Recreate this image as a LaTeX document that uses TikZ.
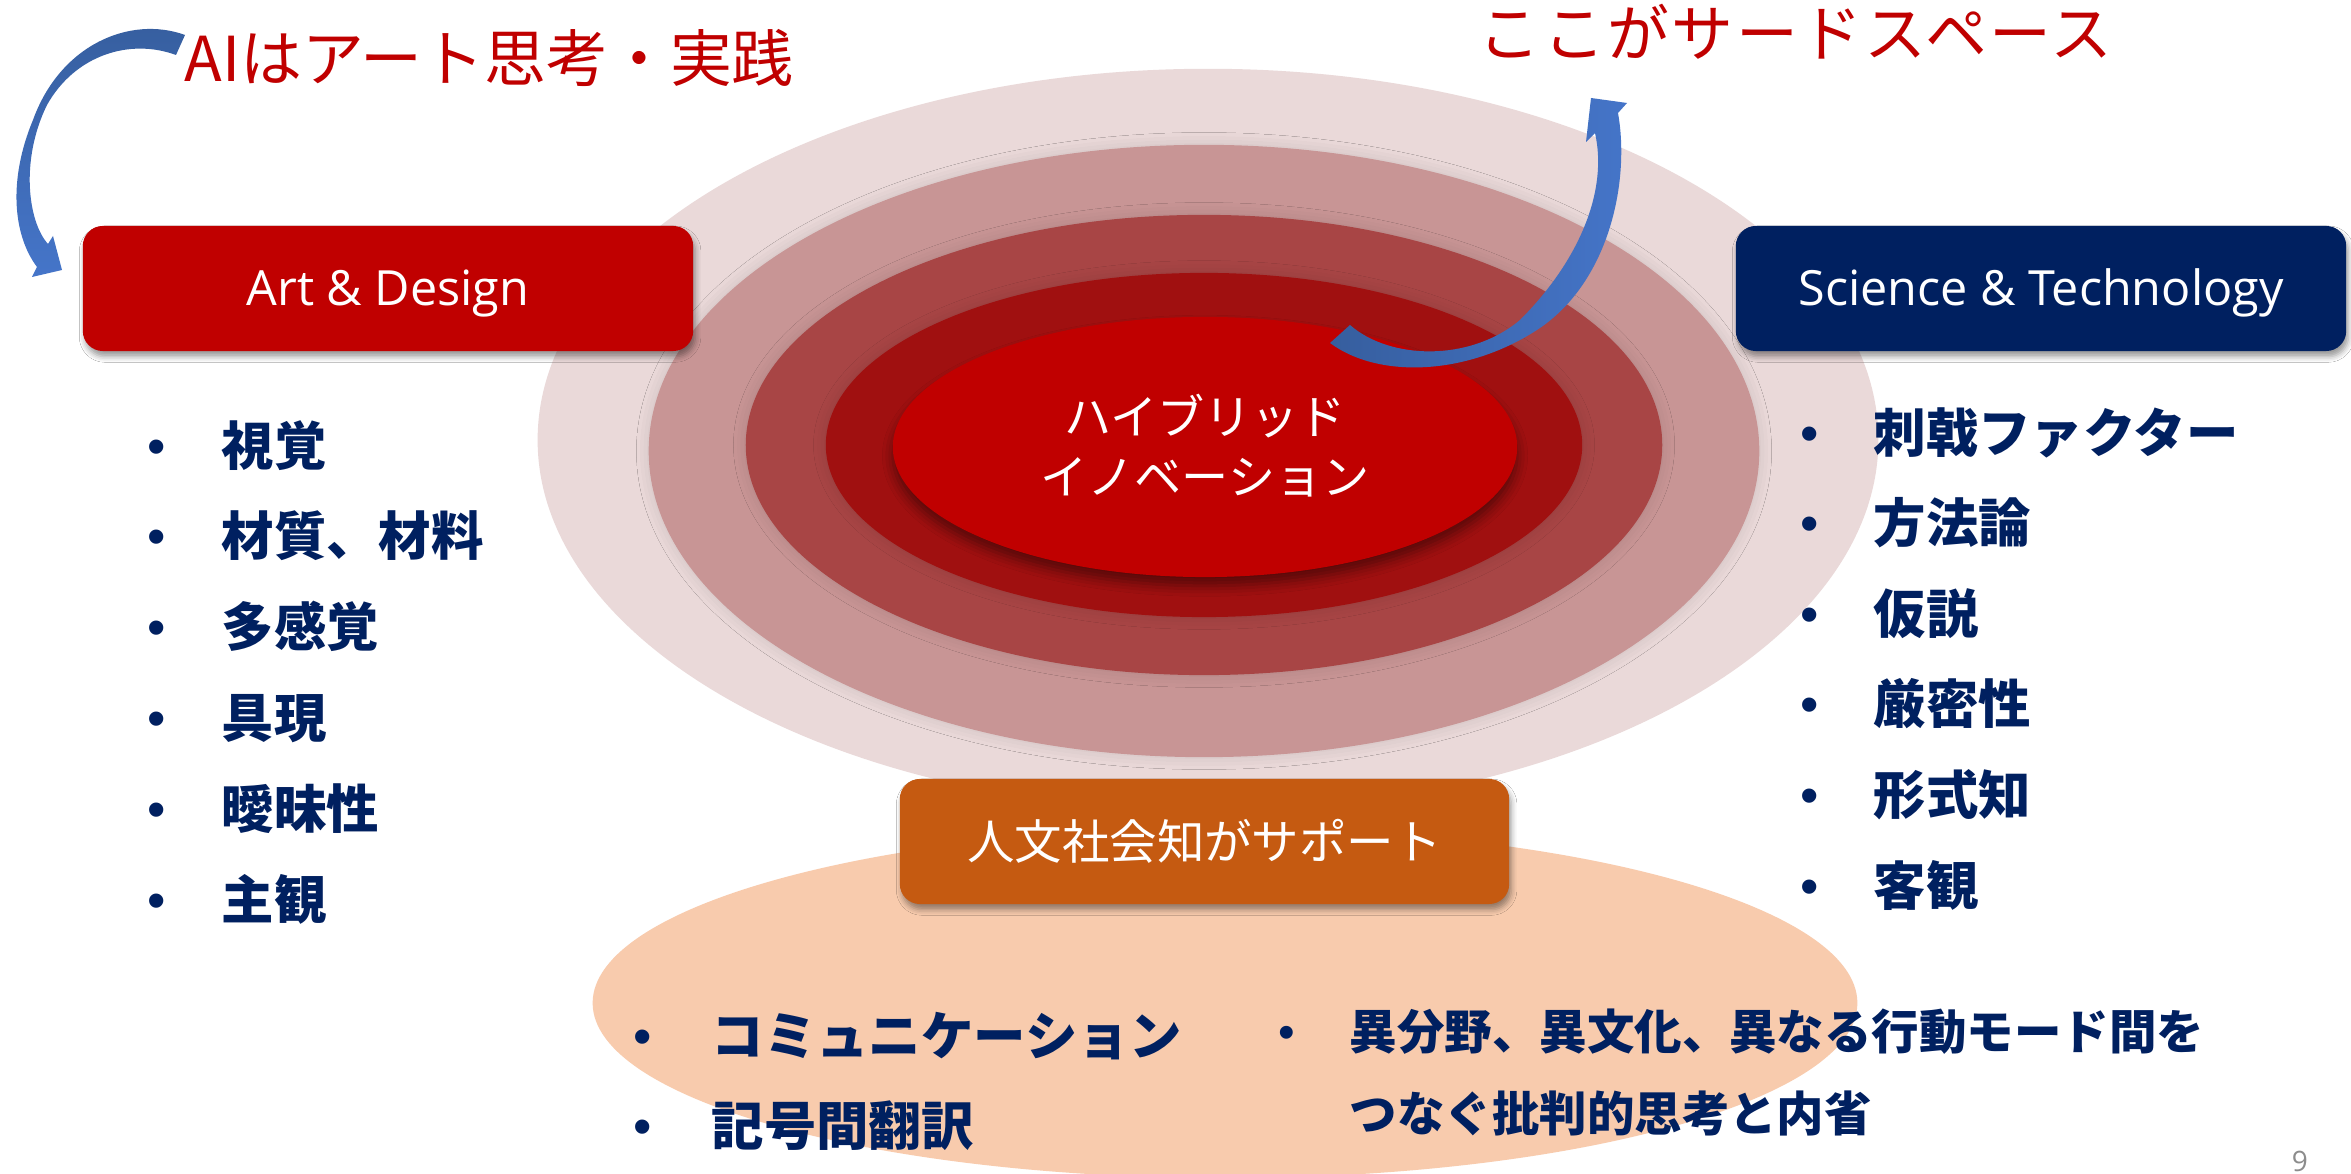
\documentclass[tikz,border=0pt]{standalone}
\usepackage{fontspec}
\setmainfont{Noto Sans CJK JP}
\newfontfamily\jp{Noto Sans CJK JP}
\newfontfamily\jpwide{Noto Sans CJK JP}[LetterSpace=4]
\newfontfamily\osans{Open Sans}
\newfontfamily\bulf{Liberation Sans}
\usetikzlibrary{shadows.blur}
\definecolor{redT}{HTML}{C00000}
\definecolor{navy}{HTML}{002060}
\definecolor{orangeB}{HTML}{C55A11}
\definecolor{peach}{HTML}{F8CBAD}
\definecolor{ringA}{HTML}{EAD9D9}
\definecolor{ringB}{HTML}{C89595}
\definecolor{ringC}{HTML}{A84545}
\definecolor{ringD}{HTML}{A01010}
\definecolor{ringE}{HTML}{C00000}
\definecolor{arrDark}{HTML}{365E9E}
\definecolor{arrLight}{HTML}{4575C9}
\definecolor{grayNum}{HTML}{8C8C8C}
\tikzset{
  titletext/.style={font=\jp\fontsize{17.6pt}{21pt}\selectfont, text=redT, inner sep=0pt, anchor=base west},
  labelbox/.style={rounded corners=0.2cm, minimum height=1.25cm, inner sep=0pt, text=white,
    blur shadow={shadow xshift=0.6pt, shadow yshift=-1.6pt, shadow blur radius=1.6pt, shadow opacity=40}},
  latinlbl/.style={font=\osans\fontsize{13.8pt}{16pt}\selectfont, text height=9.85pt, text depth=0pt},
  item/.style={font=\jp\bfseries\fontsize{14.9pt}{18pt}\selectfont, text=navy, inner sep=0pt, anchor=base west},
  itemsmall/.style={font=\jp\bfseries\fontsize{13.5pt}{16pt}\selectfont, text=navy, inner sep=0pt, anchor=base west},
  bulletmark/.style={font=\bulf\fontsize{14.9pt}{18pt}\selectfont, text=navy, inner sep=0pt, anchor=base},
  bulletsmall/.style={font=\bulf\fontsize{13.5pt}{16pt}\selectfont, text=navy, inner sep=0pt, anchor=base},
  hybtext/.style={font=\jp\fontsize{13.4pt}{16pt}\selectfont, text=white, inner sep=0pt, anchor=base},
  ringshadow/.style={blur shadow={shadow xshift=0pt, shadow yshift=0pt, shadow blur radius=3.5pt, shadow opacity=12}}
}
\begin{document}
\begin{tikzpicture}[x=0.01cm,y=-0.01cm]
\useasboundingbox[fill=white] (0,0) rectangle (2351,1174);

% peach support ellipse
\fill[peach] (1225,1003) ellipse [x radius=6.32cm, y radius=1.75cm];

% concentric rings
\path[fill=ringA] (1208,440) ellipse [x radius=6.70cm, y radius=3.71cm];
\path[fill=ringB, ringshadow] (1204,451) ellipse [x radius=5.55cm, y radius=3.06cm];
\path[fill=ringC, ringshadow] (1204,445) ellipse [x radius=4.58cm, y radius=2.30cm];
\path[fill=ringD, ringshadow] (1204,445) ellipse [x radius=3.78cm, y radius=1.72cm];
\path[fill=ringE, blur shadow={shadow xshift=0pt, shadow yshift=-2.5pt, shadow blur radius=3pt, shadow opacity=45}] (1205,447) ellipse [x radius=3.12cm, y radius=1.30cm];

% central text
\node[hybtext] (hyb1) at (1205,435) {ハイブリッド};
\node[hybtext] (hyb2) at (1205,495) {イノベーション};

% curved arrow towards third space
\shade[left color=arrDark, right color=arrLight]
  (1330,343) .. controls (1380,380) and (1470,375) .. (1540,328)
  .. controls (1610,280) and (1630,180) .. (1618,113)
  -- (1627,103) -- (1591,98) -- (1586,142) -- (1595,133)
  .. controls (1608,190) and (1580,260) .. (1520,320)
  .. controls (1470,362) and (1390,360) .. (1350,325) -- cycle;

% curved arrow towards Art & Design
\shade[top color=arrDark, bottom color=arrLight]
  (185,35) .. controls (130,15) and (60,45) .. (33,120)
  .. controls (8,180) and (13,235) .. (37,267)
  -- (32,277) -- (62,270) -- (53,236) -- (48,244)
  .. controls (28,222) and (20,160) .. (47,105)
  .. controls (75,55) and (130,38) .. (176,55) -- cycle;

% titles
\node[titletext] (ttl1) at (184,82) {AIはアート思考・実践};
\node[titletext, font=\jpwide\fontsize{17.6pt}{21pt}\selectfont] (ttl2) at (1478,57) {ここがサードスペース};

% boxes
\node[labelbox, fill=redT, minimum width=6.10cm, latinlbl] (art) at (388,288.5) {Art \& Design};
\node[labelbox, fill=navy, minimum width=6.10cm, latinlbl] (sci) at (2041,288.5) {Science \& Technology};
\node[labelbox, fill=orangeB, minimum width=6.09cm, font=\jp\fontsize{13.5pt}{16pt}\selectfont, text height=11.88pt, text depth=1.62pt] (hum) at (1204.5,841.5) {人文社会知がサポート};

% left list
\node[bulletmark] (bl1) at (157,464.3) {•};
\node[bulletmark] (bl2) at (157,554.3) {•};
\node[bulletmark] (bl3) at (157,645.3) {•};
\node[bulletmark] (bl4) at (157,736.3) {•};
\node[bulletmark] (bl5) at (157,827.3) {•};
\node[bulletmark] (bl6) at (157,918.3) {•};
\node[item] (l1) at (221,465.4) {視覚};
\node[item] (l2) at (221,555.4) {材質、材料};
\node[item] (l3) at (221,646.4) {多感覚};
\node[item] (l4) at (221,737.4) {具現};
\node[item] (l5) at (221,828.4) {曖昧性};
\node[item] (l6) at (221,919.4) {主観};

% right list
\node[bulletmark] (br1) at (1810,451.3) {•};
\node[bulletmark] (br2) at (1810,541.3) {•};
\node[bulletmark] (br3) at (1810,632.3) {•};
\node[bulletmark] (br4) at (1810,722.3) {•};
\node[bulletmark] (br5) at (1810,813.3) {•};
\node[bulletmark] (br6) at (1810,904.3) {•};
\node[item] (r1) at (1873,452.4) {刺戟ファクター};
\node[item] (r2) at (1873,542.4) {方法論};
\node[item] (r3) at (1873,633.4) {仮説};
\node[item] (r4) at (1873,723.4) {厳密性};
\node[item] (r5) at (1873,814.4) {形式知};
\node[item] (r6) at (1873,905.4) {客観};

% bottom lists
\node[bulletmark] (bb1) at (643,1054.3) {•};
\node[bulletmark] (bb2) at (643,1144.3) {•};
\node[item] (b1) at (711,1055.4) {コミュニケーション};
\node[item] (b2) at (711,1145.4) {記号間翻訳};
\node[bulletsmall] (bb3) at (1287,1048.4) {•};
\node[itemsmall] (b3) at (1349,1049.5) {異分野、異文化、異なる行動モード間を};
\node[itemsmall] (b4) at (1349,1131.5) {つなぐ批判的思考と内省};

% page number
\node[font=\osans\fontsize{8pt}{9pt}\selectfont, text=grayNum, inner sep=0pt, anchor=base] (pg) at (2300,1172) {9};
\end{tikzpicture}
\end{document}
